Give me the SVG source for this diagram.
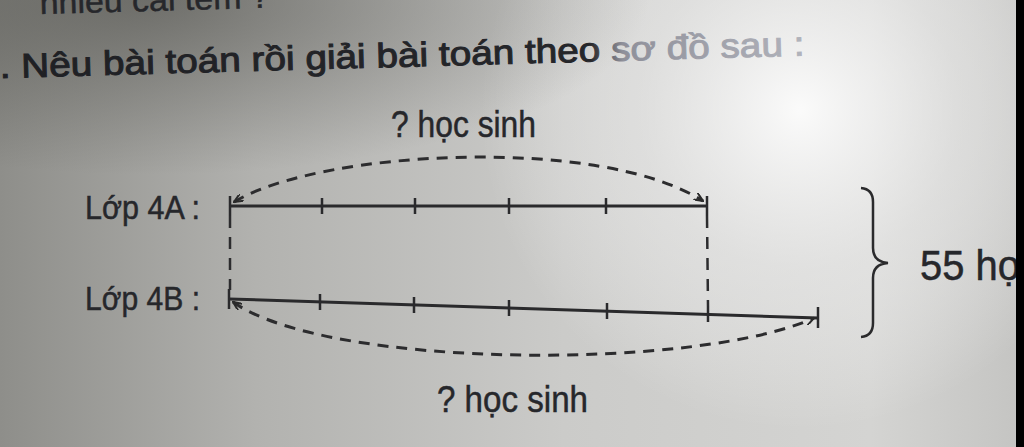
<svg xmlns="http://www.w3.org/2000/svg" width="1024" height="447" viewBox="0 0 1024 447">
<defs>
  <linearGradient id="bg" x1="0" y1="0" x2="1" y2="0">
    <stop offset="0" stop-color="#8e8e8a"/>
    <stop offset="0.25" stop-color="#b2b2af"/>
    <stop offset="0.55" stop-color="#cbcbc9"/>
    <stop offset="0.85" stop-color="#d4d4d2"/>
    <stop offset="1" stop-color="#c4c4c2"/>
  </linearGradient>
  <radialGradient id="glow" cx="800" cy="110" r="320" gradientUnits="userSpaceOnUse">
    <stop offset="0" stop-color="#ffffff" stop-opacity="0.9"/>
    <stop offset="0.5" stop-color="#f2f2f2" stop-opacity="0.45"/>
    <stop offset="1" stop-color="#ffffff" stop-opacity="0"/>
  </radialGradient>
  <radialGradient id="topdark" cx="150" cy="0" r="500" gradientUnits="userSpaceOnUse" gradientTransform="translate(150 0) scale(1 0.35) translate(-150 0)">
    <stop offset="0" stop-color="#4a4a45" stop-opacity="0.6"/>
    <stop offset="1" stop-color="#4a4a45" stop-opacity="0"/>
  </radialGradient>
  <linearGradient id="titlefill" x1="0" y1="0" x2="820" y2="0" gradientUnits="userSpaceOnUse">
    <stop offset="0" stop-color="#1f2024"/>
    <stop offset="0.72" stop-color="#25262a"/>
    <stop offset="0.76" stop-color="#8f909a"/>
    <stop offset="1" stop-color="#b4b6be"/>
  </linearGradient>
  <marker id="arr" viewBox="0 0 10 8" refX="9" refY="4" markerWidth="10" markerHeight="8" markerUnits="userSpaceOnUse" orient="auto-start-reverse">
    <path d="M0,0 L9,4 L0,8" fill="none" stroke="#2a2a2a" stroke-width="2"/>
  </marker>
  <style>
    .txt { font-family: "Liberation Sans", Arial, sans-serif; fill: #26272b; stroke: #26272b; stroke-width: 0.5; }
    .bar { stroke: #2a2a2c; stroke-width: 3; fill: none; }
    .tick { stroke: #2a2a2c; stroke-width: 2.5; }
    .dash { stroke: #2c2c2e; stroke-width: 3; fill: none; stroke-dasharray: 11 8; }
    .vdash { stroke: #2c2c2e; stroke-width: 2.5; fill: none; stroke-dasharray: 12 9; }
  </style>
</defs>

<rect x="0" y="0" width="1024" height="447" fill="url(#bg)"/>
<rect x="0" y="0" width="1024" height="447" fill="url(#glow)"/>
<rect x="0" y="0" width="1024" height="447" fill="url(#topdark)"/>

<g id="header">
  <text class="txt" x="40" y="14" font-size="32" transform="rotate(-1.6 40 14)" textLength="230" lengthAdjust="spacingAndGlyphs" stroke-width="1">nhiều cái tem ?</text>
  <text x="0" y="78" font-size="34" font-family="Liberation Sans, Arial, sans-serif" fill="url(#titlefill)" stroke="url(#titlefill)" stroke-width="1" transform="rotate(-1.6 0 78)" textLength="805" lengthAdjust="spacingAndGlyphs">. Nêu bài toán rồi giải bài toán theo sơ đồ sau :</text>
</g>

<g id="label-top">
  <text class="txt" x="391" y="137" font-size="37" textLength="145" lengthAdjust="spacingAndGlyphs">? học sinh</text>
</g>

<g id="bar-4A">
  <text class="txt" x="85" y="219" font-size="34" textLength="115" lengthAdjust="spacingAndGlyphs">Lớp 4A :</text>
  <line class="bar" x1="230" y1="206" x2="706" y2="206"/>
  <line class="tick" x1="230" y1="196" x2="230" y2="216"/>
  <line class="tick" x1="322" y1="198" x2="322" y2="214"/>
  <line class="tick" x1="415" y1="198" x2="415" y2="214"/>
  <line class="tick" x1="509" y1="198" x2="509" y2="214"/>
  <line class="tick" x1="606" y1="198" x2="606" y2="214"/>
  <line class="tick" x1="707" y1="196" x2="707" y2="216"/>
</g>

<g id="bar-4B">
  <text class="txt" x="85" y="310" font-size="34" textLength="115" lengthAdjust="spacingAndGlyphs">Lớp 4B :</text>
  <line class="bar" x1="229" y1="299" x2="818" y2="318"/>
  <line class="tick" x1="229" y1="289" x2="229" y2="309"/>
  <line class="tick" x1="320" y1="294" x2="320" y2="310"/>
  <line class="tick" x1="414" y1="297" x2="414" y2="313"/>
  <line class="tick" x1="509" y1="300" x2="509" y2="316"/>
  <line class="tick" x1="607" y1="303" x2="607" y2="319"/>
  <line class="tick" x1="708" y1="306" x2="708" y2="322"/>
  <line class="tick" x1="818" y1="307" x2="818" y2="328"/>
</g>

<g id="connectors">
  <path class="dash" d="M234,202 C320,150 600,135 703,201" marker-start="url(#arr)" marker-end="url(#arr)"/>
  <path class="dash" d="M233,302 C330,370 700,370 814,318" marker-start="url(#arr)" marker-end="url(#arr)"/>
  <line class="vdash" x1="230" y1="216" x2="230" y2="290"/>
  <line class="vdash" x1="707" y1="216" x2="708" y2="306"/>
</g>

<g id="label-bottom">
  <text class="txt" x="437" y="412" font-size="37" textLength="151" lengthAdjust="spacingAndGlyphs">? học sinh</text>
</g>

<g id="total">
  <path d="M861,188 Q873,189 873,202 L873,248 Q873,262 888,263 Q873,264 873,278 L873,323 Q873,336 861,337" fill="none" stroke="#2a2a2c" stroke-width="2.5"/>
  <text class="txt" x="920" y="280" font-size="42" textLength="100" lengthAdjust="spacingAndGlyphs">55 họ</text>
</g>

<rect x="1016" y="0" width="8" height="447" fill="#000"/>
</svg>
